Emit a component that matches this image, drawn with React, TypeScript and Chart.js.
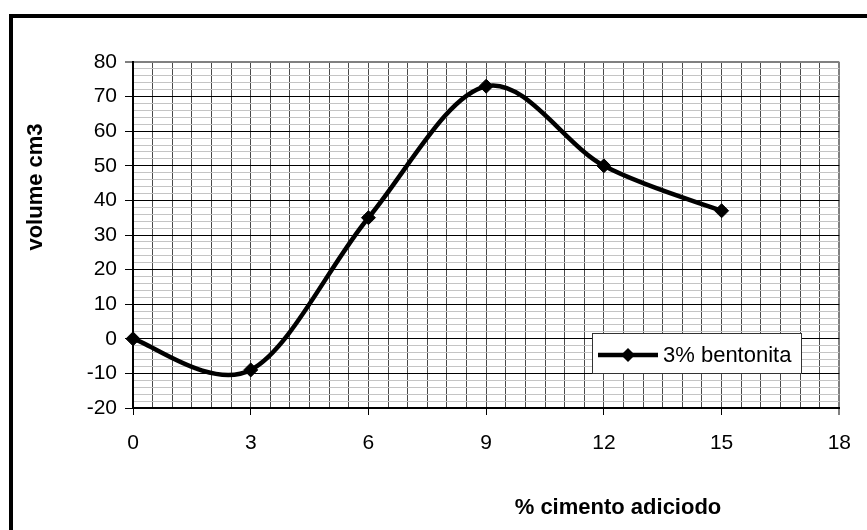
import React, { useEffect, useRef } from "react";
import { Chart, registerables } from "chart.js";

Chart.register(...registerables);

// ---- data ----
const xValues = [0, 3, 6, 9, 12, 15];
const yValues = [0, -9, 35, 73, 50, 37];
const seriesLabel = "3% bentonita";
const xTitle = "% cimento adiciodo";
const yTitle = "volume cm3";
const xRange = [0, 18];
const yRange = [-20, 80];
const xMajorStep = 3;
const yMajorStep = 10;

const FONT = "Arial, 'Liberation Sans', sans-serif";

const isMult = (v: number, s: number) => Math.abs(v / s - Math.round(v / s)) < 1e-6;

// Excel-style smoothing (uniform Catmull-Rom) applied to Chart.js's own point elements
const excelSmoothPlugin = {
  id: "excelSmooth",
  beforeDatasetsDraw(chart: any) {
    chart.getSortedVisibleDatasetMetas().forEach((meta: any) => {
      const line = meta.dataset;
      if (!line || !meta.data || meta.data.length < 2) return;
      if (line.updateControlPoints) line.updateControlPoints(chart.chartArea, "x");
      const pts = meta.data;
      for (let i = 0; i < pts.length; i++) {
        const p = pts[i];
        const prev = pts[i - 1] || p;
        const next = pts[i + 1] || p;
        const dx = (next.x - prev.x) / 6;
        const dy = (next.y - prev.y) / 6;
        p.cp1x = p.x - dx;
        p.cp1y = p.y - dy;
        p.cp2x = p.x + dx;
        p.cp2y = p.y + dy;
      }
      line._path = undefined;
    });
  },
};

const decorPlugin = {
  id: "decor",
  afterDraw(chart: any) {
    const ctx = chart.ctx as CanvasRenderingContext2D;
    ctx.save();
    // legend box
    const bx = 592.5, by = 333.5, bw = 209, bh = 40;
    ctx.fillStyle = "#ffffff";
    ctx.fillRect(bx, by, bw, bh);
    ctx.strokeStyle = "#333333";
    ctx.lineWidth = 1;
    ctx.strokeRect(bx, by, bw, bh);
    const ly = 355;
    ctx.beginPath();
    ctx.moveTo(598, ly);
    ctx.lineTo(658, ly);
    ctx.lineWidth = 4.5;
    ctx.strokeStyle = "#000";
    ctx.stroke();
    const r = 7;
    ctx.beginPath();
    ctx.moveTo(628, ly - r);
    ctx.lineTo(628 + r, ly);
    ctx.lineTo(628, ly + r);
    ctx.lineTo(628 - r, ly);
    ctx.closePath();
    ctx.fillStyle = "#000";
    ctx.fill();
    ctx.font = `22px ${FONT}`;
    ctx.textBaseline = "middle";
    ctx.textAlign = "left";
    ctx.fillText(chart.data.datasets[0].label, 663, ly + 1);

    // axis titles
    ctx.font = `bold 22px ${FONT}`;
    ctx.textAlign = "center";
    ctx.textBaseline = "alphabetic";
    ctx.fillText(xTitle, 618, 514);
    ctx.save();
    ctx.translate(42, 187);
    ctx.rotate(-Math.PI / 2);
    ctx.fillText(yTitle, 0, 0);
    ctx.restore();
    ctx.restore();
  },
};

export default function App() {
  const ref = useRef<HTMLCanvasElement | null>(null);
  useEffect(() => {
    if (!ref.current) return;
    const chart = new Chart(ref.current, {
      type: "line",
      data: {
        datasets: [
          {
            label: seriesLabel,
            data: xValues.map((x, i) => ({ x, y: yValues[i] })),
            borderColor: "#000",
            backgroundColor: "#000",
            borderWidth: 4.5,
            tension: 0.4,
            pointStyle: "rectRot",
            pointRadius: 7,
            pointBackgroundColor: "#000",
            pointBorderColor: "#000",
            pointBorderWidth: 1,
            fill: false,
            clip: false as any,
          },
        ],
      },
      options: {
        animation: false,
        responsive: false,
        devicePixelRatio: 1,
        layout: { padding: { left: 0, top: 62, right: 25, bottom: 0 } },
        plugins: {
          legend: { display: false },
          tooltip: { enabled: false },
        },
        scales: {
          x: {
            type: "linear",
            min: xRange[0],
            max: xRange[1],
            afterFit: (s: any) => {
              s.height = 122;
            },
            ticks: {
              stepSize: 0.5,
              autoSkip: false,
              maxRotation: 0,
              padding: 16,
              color: "#000",
              font: { family: FONT, size: 21 },
              callback: (v: any) => (isMult(Number(v), xMajorStep) ? String(v) : ""),
            },
            grid: {
              color: (c: any) => (c.tick && c.tick.value === xRange[1] ? "#808080" : "#4a4a4a"),
              lineWidth: (c: any) => (c.tick && c.tick.value === xRange[1] ? 2 : 1),
              tickLength: 7,
              tickColor: (c: any) => {
                const v = c.tick ? c.tick.value : 0;
                if (v === xRange[1]) return "#808080";
                return isMult(v, xMajorStep) ? "#000" : "rgba(0,0,0,0)";
              },
              tickWidth: (c: any) => (c.tick && c.tick.value === xRange[1] ? 2 : 1),
            },
            border: { color: "#000", width: 2 },
          },
          y: {
            type: "linear",
            min: yRange[0],
            max: yRange[1],
            afterFit: (s: any) => {
              s.width = 133;
            },
            ticks: {
              stepSize: 2,
              autoSkip: false,
              padding: 8,
              color: "#000",
              font: { family: FONT, size: 21 },
              callback: (v: any) => (isMult(Number(v), yMajorStep) ? String(v) : ""),
            },
            grid: {
              color: (c: any) => {
                const v = c.tick ? c.tick.value : 0;
                if (v === yRange[1]) return "#808080";
                return isMult(v, yMajorStep) ? "#000" : "#c4c4c4";
              },
              lineWidth: (c: any) => (c.tick && c.tick.value === yRange[1] ? 2 : 1),
              tickLength: 8,
              tickColor: (c: any) => {
                const v = c.tick ? c.tick.value : 0;
                return isMult(v, yMajorStep) ? "#000" : "rgba(0,0,0,0)";
              },
              tickWidth: 1,
            },
            border: { color: "#000", width: 2 },
          },
        },
      },
      plugins: [excelSmoothPlugin, decorPlugin],
    });
    return () => chart.destroy();
  }, []);

  return (
    <div
      style={{
        position: "fixed",
        left: 0,
        top: 0,
        width: 867,
        height: 530,
        overflow: "hidden",
        background: "#fff",
      }}
    >
      <div
        style={{
          position: "absolute",
          left: 9,
          top: 14,
          width: 900,
          height: 600,
          borderLeft: "4px solid #000",
          borderTop: "4px solid #000",
        }}
      />
      <canvas
        ref={ref}
        width={867}
        height={530}
        style={{ position: "absolute", left: 0, top: 0, width: 867, height: 530 }}
      />
    </div>
  );
}
